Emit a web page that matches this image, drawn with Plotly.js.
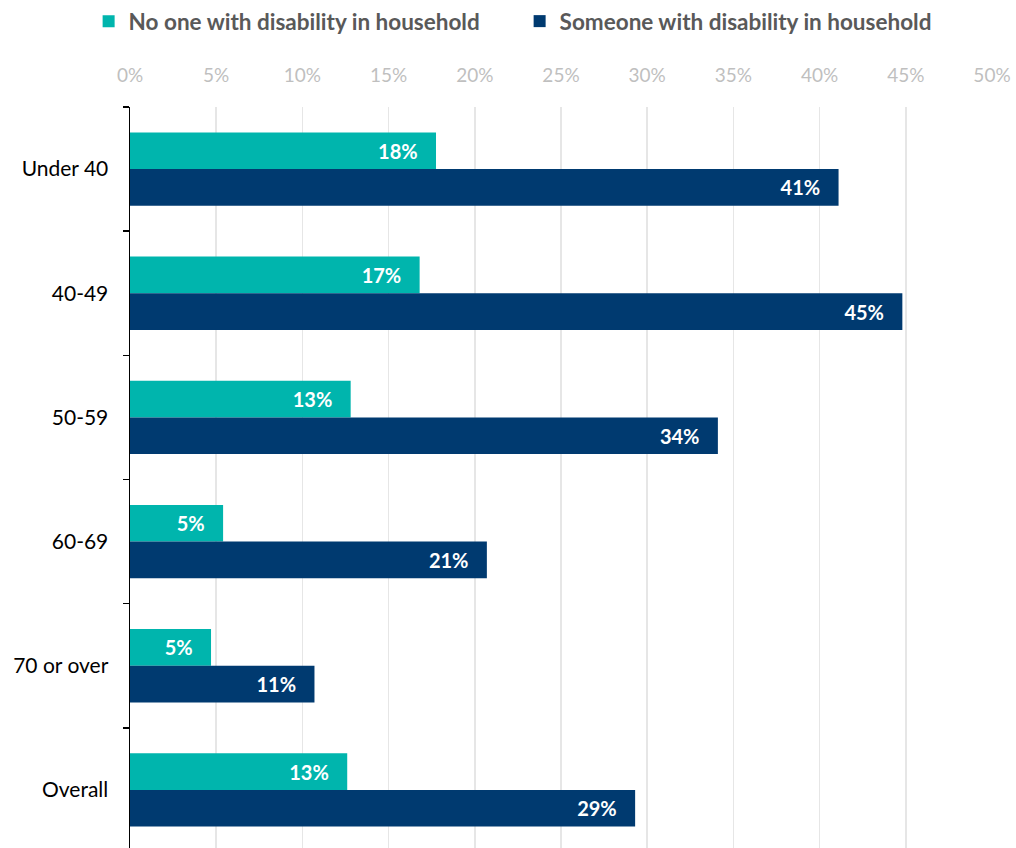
<!DOCTYPE html>
<html>
<head>
<meta charset="utf-8">
<script src="https://cdn.plot.ly/plotly-3.0.1.min.js"></script>
<style>
html,body{margin:0;padding:0;overflow:hidden;background:#fff;}
#chart{width:1016px;height:852px;}
</style>
</head>
<body>
<div id="chart"></div>
<script>
const categories = ["Under 40", "40-49", "50-59", "60-69", "70 or over", "Overall"];
const seriesNames = ["No one with disability in household", "Someone with disability in household"];
const noDisability = [17.75, 16.8, 12.8, 5.4, 4.7, 12.6];
const withDisability = [41.1, 44.8, 34.1, 20.7, 10.7, 29.3];
const xTickVals = [0, 5, 10, 15, 20, 25, 30, 35, 40, 45, 50];
const xTickText = ["0%", "5%", "10%", "15%", "20%", "25%", "30%", "35%", "40%", "45%", "50%"];

const FONT = "Lato, 'Open Sans', sans-serif";
const colors = ["#00B5AD", "#003A70"];
const pad = "\u00a0\u00a0\u00a0";

const traces = [noDisability, withDisability].map((vals, i) => ({
  type: "bar",
  orientation: "h",
  name: seriesNames[i],
  y: categories,
  x: vals,
  marker: {color: colors[i], line: {width: 0}},
  texttemplate: "<b>%{x:.0f}%</b>" + pad,
  textposition: "inside",
  insidetextanchor: "end",
  constraintext: "none",
  textfont: {family: FONT, size: 20, color: "#ffffff"},
  hoverinfo: "skip"
}));

const layout = {
  width: 1016,
  height: 852,
  margin: {l: 130, r: 24, t: 107, b: 0},
  paper_bgcolor: "#ffffff",
  plot_bgcolor: "#ffffff",
  barmode: "group",
  bargap: 0.41,
  bargroupgap: 0,
  font: {family: FONT},
  showlegend: true,
  legend: {
    orientation: "h",
    x: -0.048, xanchor: "left",
    y: 1.115, yanchor: "middle",
    entrywidth: 386, entrywidthmode: "pixels",
    font: {family: FONT, size: 22.5, color: "#595959", weight: "bold"},
    traceorder: "normal",
    itemwidth: 30
  },
  xaxis: {
    side: "top",
    range: [0, 50],
    tickvals: xTickVals,
    ticktext: xTickText,
    showgrid: true,
    gridcolor: "#E6E6E6",
    gridwidth: 1.5,
    zeroline: false,
    showline: false,
    ticks: "",
    ticklabelstandoff: 20,
    tickfont: {family: FONT, size: 19, color: "#BFBFBF"},
    fixedrange: true
  },
  yaxis: {
    type: "category",
    autorange: "reversed",
    showgrid: false,
    showline: true,
    linecolor: "#000000",
    linewidth: 1.5,
    ticks: "outside",
    tickson: "boundaries",
    ticklen: 6,
    tickwidth: 1.5,
    tickcolor: "#000000",
    ticklabelstandoff: 16,
    tickfont: {family: FONT, size: 21, color: "#000000"},
    fixedrange: true
  }
};

Plotly.newPlot("chart", traces, layout, {displayModeBar: false, staticPlot: true});
</script>
</body>
</html>
